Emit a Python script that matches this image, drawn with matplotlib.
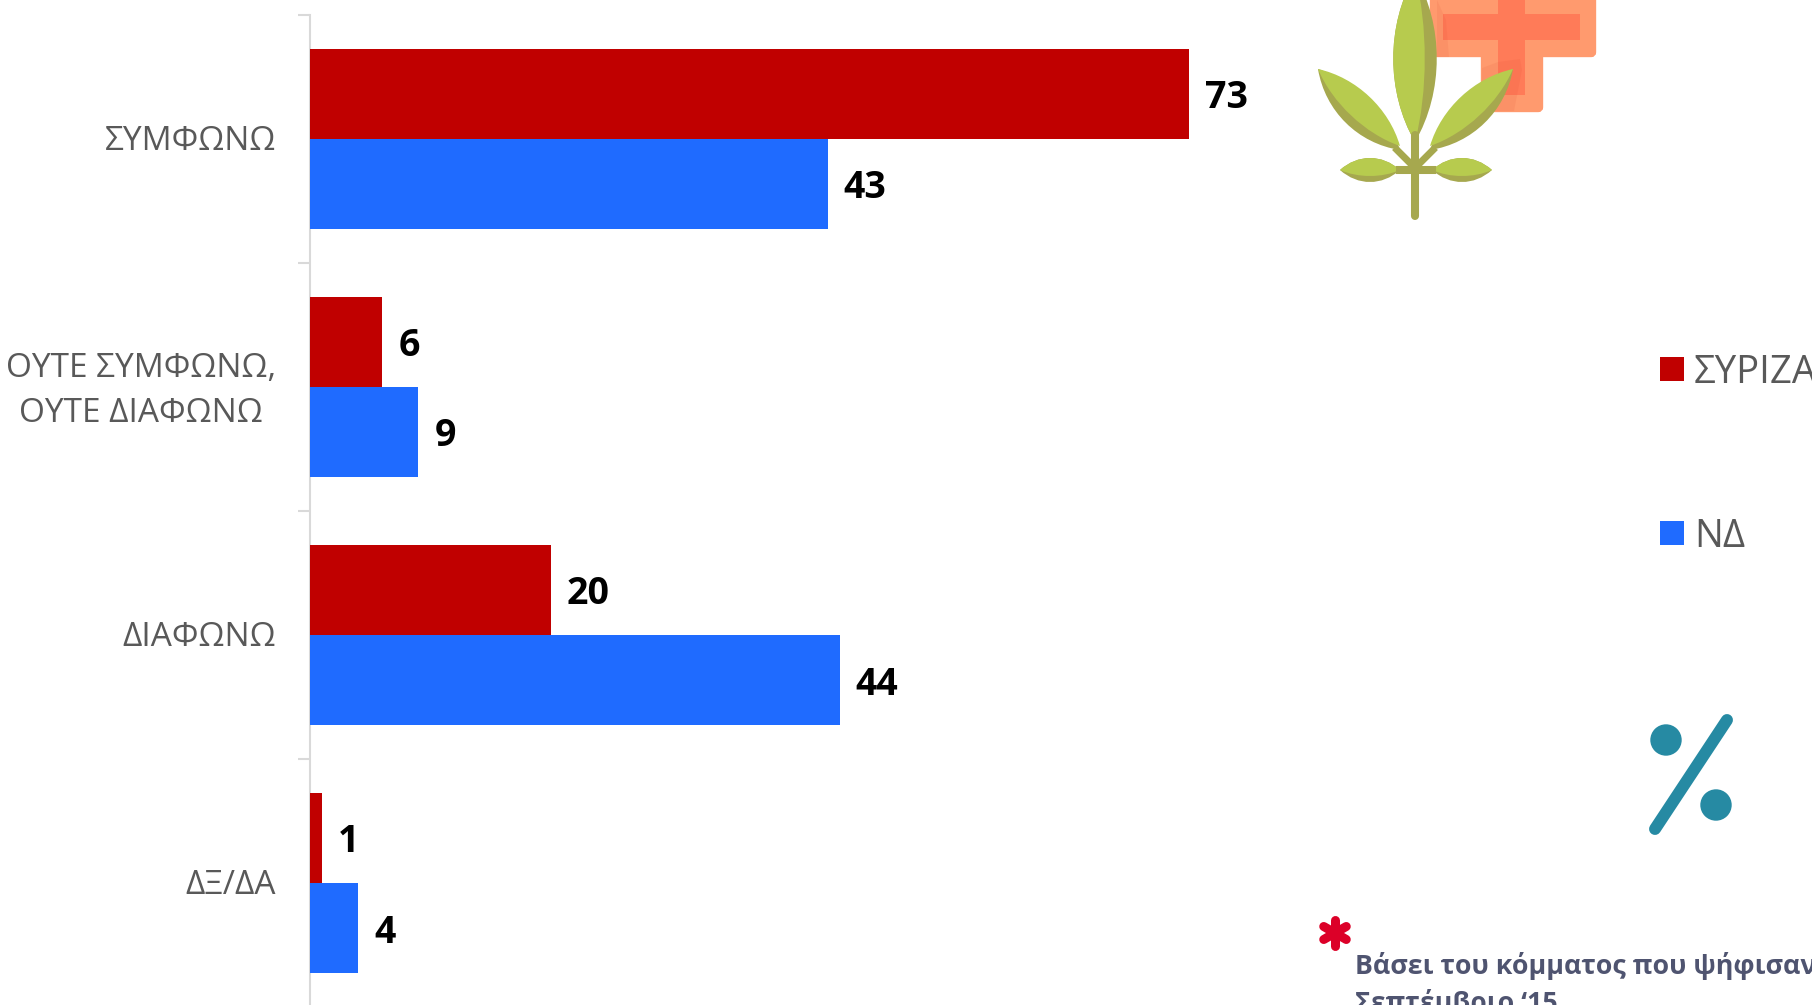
"""
Horizontal bar chart, SYRIZA vs ND, with the decorative icons on the right.
"""

import numpy as np
import matplotlib
matplotlib.use("Agg")
import matplotlib.pyplot as plt
from matplotlib.patches import Circle, PathPatch, Rectangle, FancyBboxPatch, Polygon
from matplotlib.path import Path
from matplotlib.transforms import ScaledTranslation

plt.rcParams['font.family'] = ['Open Sans', 'DejaVu Sans']

# Data
categories = ["ΣΥΜΦΩΝΩ", "ΟΥΤΕ ΣΥΜΦΩΝΩ,\nΟΥΤΕ ΔΙΑΦΩΝΩ", "ΔΙΑΦΩΝΩ", "ΔΞ/ΔΑ"]
syriza = [73, 6, 20, 1]
nd = [43, 9, 44, 4]
series_names = ["ΣΥΡΙΖΑ", "ΝΔ"]
footnote = ["Βάσει του κόμματος που ψήφισαν", "Σεπτέμβριο ‘15"]

RED = '#c00000'
BLUE = '#1f6bff'
GREY = '#595959'
AXIS = '#d9d9d9'
TEAL = '#268aa3'

W, H = 1812, 1005
fig = plt.figure(figsize=(W / 100, H / 100), dpi=100, facecolor='white')


# Bars
ax = fig.add_axes([310 / W, 0, (W - 310) / W, 1 - 15 / H])
ax.set_xlim(0, (W - 310) / 12.04)
ax.set_ylim(-0.5 + 990 / 248, -0.5)
ax.patch.set_alpha(0)

y = np.arange(len(categories))
bar_h = 90 / 248
red_bars = ax.barh(y - bar_h / 2, syriza, height=bar_h, color=RED, zorder=3)
blue_bars = ax.barh(y + bar_h / 2, nd, height=bar_h, color=BLUE, zorder=3)

for bars in (red_bars, blue_bars):
    for bar in bars:
        ax.annotate(str(int(bar.get_width())), (bar.get_width(), bar.get_y() + bar.get_height() / 2),
                    xytext=(11.5, 0), textcoords='offset points', va='center_baseline', ha='left',
                    fontsize=27, fontweight='bold', color='black')

for side in ['top', 'right', 'bottom']:
    ax.spines[side].set_visible(False)
ax.spines['left'].set_color(AXIS)
ax.spines['left'].set_linewidth(1.5)
ax.set_xticks([])

# boundary ticks between the groups, labels in the middle of each group
ax.set_yticks(np.arange(len(categories)) - 0.5)
ax.set_yticklabels([])
ax.tick_params(axis='y', which='major', length=8.6, width=1.5, color=AXIS)
ax.set_yticks(y, minor=True)
ax.set_yticklabels(categories, minor=True, fontsize=24, color=GREY, ma='center', linespacing=1.46)
ax.tick_params(axis='y', which='minor', length=0, pad=24.5)

# the labels sit a little above the middle of the group
for i, label in enumerate(ax.get_yticklabels(minor=True)):
    shift = 6 if "\n" in categories[i] else 2
    label.set_transform(label.get_transform() + ScaledTranslation(0, shift / 100, fig.dpi_scale_trans))


# Overlay in pixel coordinates for the icons, legend and footnote
over = fig.add_axes([0, 0, 1, 1], zorder=5)
over.set_xlim(0, W)
over.set_ylim(H, 0)
over.axis('off')
over.patch.set_alpha(0)


def leaf(x0, y0, x1, y1, bulge_a, bulge_b, color):
    # closed two sided leaf from (x0, y0) to (x1, y1)
    dx, dy = x1 - x0, y1 - y0
    length = np.hypot(dx, dy)
    nx, ny = -dy / length, dx / length
    verts = [(x0, y0),
             (x0 + dx * 0.3 + nx * bulge_a, y0 + dy * 0.3 + ny * bulge_a),
             (x0 + dx * 0.7 + nx * bulge_a, y0 + dy * 0.7 + ny * bulge_a),
             (x1, y1),
             (x0 + dx * 0.7 - nx * bulge_b, y0 + dy * 0.7 - ny * bulge_b),
             (x0 + dx * 0.3 - nx * bulge_b, y0 + dy * 0.3 - ny * bulge_b),
             (x0, y0)]
    codes = [Path.MOVETO, Path.CURVE4, Path.CURVE4, Path.CURVE4, Path.CURVE4, Path.CURVE4, Path.CURVE4]
    over.add_patch(PathPatch(Path(verts, codes), facecolor=color, edgecolor='none'))


# plus icon
PLUS_OUT = '#ff9a6e'
PLUS_IN = '#ff7b58'
over.add_patch(FancyBboxPatch((1434, -40), 158, 93, boxstyle='round,pad=0,rounding_size=1', facecolor=PLUS_OUT, edgecolor=PLUS_OUT, linewidth=6))
over.add_patch(FancyBboxPatch((1485, 0), 54, 108, boxstyle='round,pad=0,rounding_size=1', facecolor=PLUS_OUT, edgecolor=PLUS_OUT, linewidth=6))
over.add_patch(Rectangle((1443, 14), 137, 26, facecolor=PLUS_IN, edgecolor='none'))
over.add_patch(Rectangle((1498, 0), 27, 95, facecolor=PLUS_IN, edgecolor='none'))
# leaf shadows on the plus
over.add_patch(Polygon([(1482, 68), (1498, 62), (1520, 59), (1522, 70), (1514, 111), (1482, 111)], facecolor='#e0452a', alpha=0.1, edgecolor='none'))
over.add_patch(Polygon([(1437, 0), (1446, 20), (1449, 57), (1437, 57)], facecolor='#e0452a', alpha=0.1, edgecolor='none'))

# plant icon
LEAF = '#b7cb4e'
LEAF_DARK = '#a6a84e'
over.plot([1415, 1415], [135, 216], color=LEAF_DARK, lw=5.8, solid_capstyle='round')
over.plot([1400, 1432], [170, 170], color=LEAF_DARK, lw=5.8)
over.plot([1397, 1415], [150, 168], color=LEAF_DARK, lw=5)
over.plot([1433, 1415], [150, 168], color=LEAF_DARK, lw=5)

leaf(1415, 142, 1415, -25, 29, 29, LEAF_DARK)
leaf(1415, 142, 1415, -25, 13, 29, LEAF)
leaf(1400, 150, 1318, 69, 17, 25, LEAF_DARK)
leaf(1400, 146, 1318, 69, 20, 15, LEAF)
leaf(1430, 150, 1513, 69, 25, 17, LEAF_DARK)
leaf(1430, 146, 1513, 69, 15, 20, LEAF)
leaf(1340, 170, 1400, 170, 16, 16, LEAF_DARK)
leaf(1340, 170, 1400, 170, 8, 16, LEAF)
leaf(1432, 170, 1492, 170, 16, 16, LEAF_DARK)
leaf(1432, 170, 1492, 170, 8, 16, LEAF)

# legend
over.add_patch(Rectangle((1660, 357), 24, 24, facecolor=RED, edgecolor='none'))
over.add_patch(Rectangle((1660, 521), 24, 24, facecolor=BLUE, edgecolor='none'))
over.text(1694, 368, series_names[0], fontsize=27.5, color=GREY, va='center_baseline', ha='left')
over.text(1694, 532, series_names[1], fontsize=27.5, color=GREY, va='center_baseline', ha='left')

# percent icon
over.plot([1727, 1655], [720, 829], color=TEAL, lw=8.6, solid_capstyle='round')
over.add_patch(Circle((1666, 740), 15.7, facecolor=TEAL, edgecolor='none'))
over.add_patch(Circle((1716, 805), 15.7, facecolor=TEAL, edgecolor='none'))

# asterisk and footnote
for angle in [90, 30, 150]:
    dx = 13 * np.cos(np.radians(angle))
    dy = 13 * np.sin(np.radians(angle))
    over.plot([1335 - dx, 1335 + dx], [933 - dy, 933 + dy], color='#dc0028', lw=6.5, solid_capstyle='round')

over.text(1355, 974, footnote[0], fontsize=19.3, fontweight='bold', color='#4f5470', ha='left', va='baseline')
over.text(1355, 1011, footnote[1], fontsize=19.3, fontweight='bold', color='#4f5470', ha='left', va='baseline', clip_on=False)

fig.savefig('out.png', dpi=100)
